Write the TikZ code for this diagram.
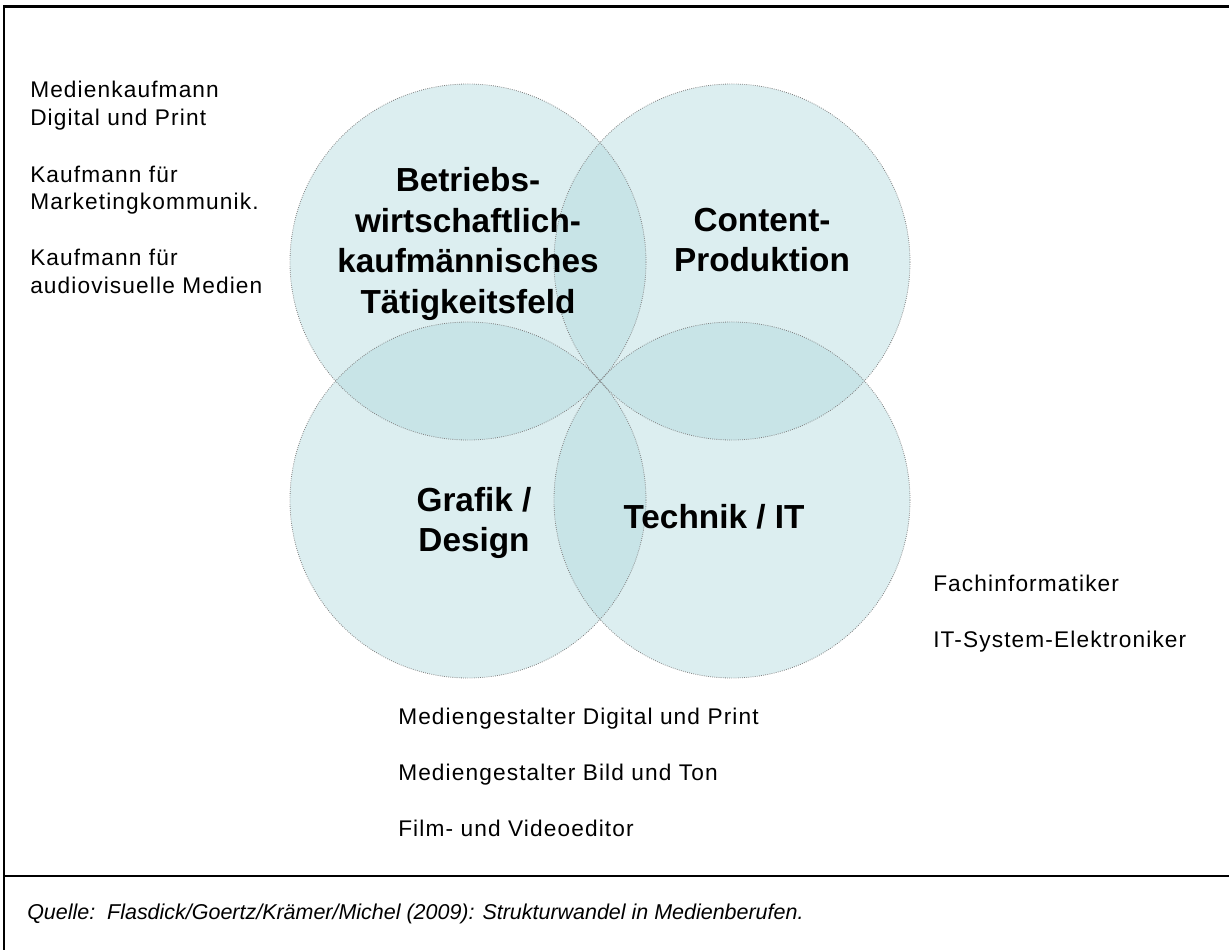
\documentclass[tikz,border=0pt]{standalone}
\usepackage{fontspec}
\setmainfont{Liberation Sans}
\newfontfamily\jobfont{Liberation Sans}[LetterSpace=5]
\usepackage{xcolor}
\usepackage{tikz}
\definecolor{fieldblue}{RGB}{174,215,220}

\begin{document}
\begin{tikzpicture}[x=0.75pt, y=-0.75pt,
  field/.style={fill=fieldblue, fill opacity=0.43},
  rim/.style={draw=gray, densely dotted, line width=0.6pt},
  topic/.style={font=\bfseries\fontsize{25}{30.3}\selectfont, align=center, inner sep=0pt},
  job/.style={font=\jobfont\fontsize{17}{20}\selectfont, anchor=base west, inner sep=0pt},
  frame/.style={line width=1.8pt}]
  \useasboundingbox (0,0) rectangle (1229,950);
  % four overlapping fields
  \coordinate (kfm) at (468,262); \coordinate (content) at (732,262);
  \coordinate (design) at (468,500); \coordinate (tech) at (732,500);
  \foreach \c in {kfm,content,design,tech} \fill[field] (\c) circle [radius=178];
  \foreach \c in {kfm,content,design,tech} \draw[rim] (\c) circle [radius=178];
  \node[topic] (kfmtxt) at (468,244) {Betriebs-\\wirtschaftlich-\\kaufmännisches\\Tätigkeitsfeld};
  \node[topic] (contenttxt) at (762,240) {Content-\\Produktion};
  \node[topic] (designtxt) at (474,523) {Grafik /\\Design};
  \node[topic] (techtxt) at (714,517) {Technik / IT};
  % occupations next to the fields
  \foreach \t/\y [count=\i] in {Medienkaufmann/97, Digital und Print/125, Kaufmann für/182,
      Marketingkommunik./209, Kaufmann für/265, audiovisuelle Medien/293}
    \node[job] (left\i) at (30,\y) {\t};
  \foreach \t/\y [count=\i] in {Fachinformatiker/591, IT-System-Elektroniker/647}
    \node[job] (right\i) at (933,\y) {\t};
  \foreach \t/\y [count=\i] in {Mediengestalter Digital und Print/724, Mediengestalter Bild und Ton/780,
      Film- und Videoeditor/836}
    \node[job] (bottom\i) at (398,\y) {\t};
  % frame and source line
  \draw[frame] (1229,6.5) -| (4,950);
  \draw[frame] (4,876) -- (1229,876);
  \node[anchor=base west, inner sep=0pt, font=\itshape\fontsize{16.1}{20}\selectfont] (source) at (27,919)
    {Quelle:\ \ Flasdick/Goertz/Krämer/Michel (2009): Strukturwandel in Medienberufen.};
\end{tikzpicture}
\end{document}
